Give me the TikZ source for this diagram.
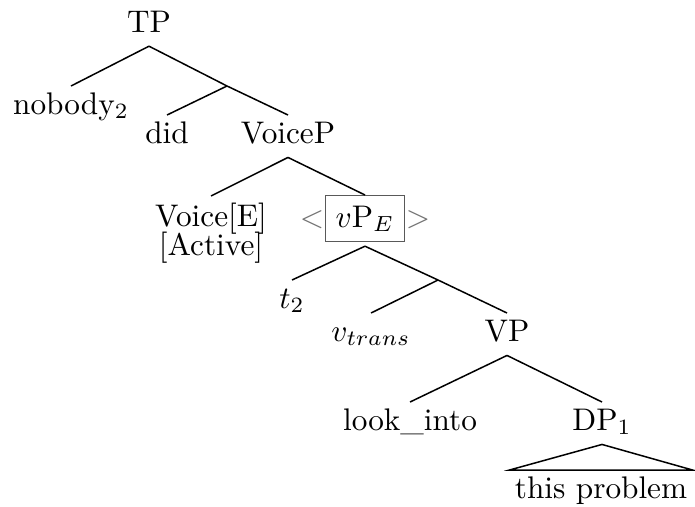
\documentclass[tikz,border=0pt]{standalone}
\begin{document}
\begin{tikzpicture}[x=0.32pt,y=-0.32pt,
  lbl/.style={inner sep=0pt, text height=8.8pt, text depth=4.3pt, anchor=north},
  boxed/.style={draw=black!65, line width=0.45pt, inner sep=3.2pt, anchor=north},
  angle/.style={inner sep=0pt, text=black!55},
  every path/.style={line width=0.48pt}]
\useasboundingbox (0,0) rectangle (695,506);

% nodes
\node[lbl, anchor=base] (TP) at (149,32) {TP};
\node[lbl] (nobody) at (71,86) {nobody$_2$};
\coordinate (m1) at (227,86);
\node[lbl] (did) at (167,115) {did};
\node[lbl] (voicep) at (288,115) {VoiceP};
\node[anchor=north, inner xsep=0pt, inner ysep=1pt, align=center] (voice) at (211,196) {\strut Voice[E]\\[-2.6pt][Active]};
\node[boxed] (vp) at (365,195) {$v$P$_E$};
\node[angle, anchor=base east] (lt) at (vp.base west) {$<$};
\node[angle, anchor=base west] (gt) at (vp.base east) {$>$};
\node[lbl] (t2) at (292,280) {$t_2$};
\coordinate (m2) at (438,280);
\node[lbl] (vtrans) at (371,313) {$v_{trans}$};
\node[lbl] (VP) at (507,313) {VP};
\node[lbl] (look) at (410,402) {look\_into};
\node[lbl] (DP) at (602,402) {DP$_1$};
\node[lbl, inner xsep=1.5pt] (prob) at (601,470) {this problem};

% edges
\draw (TP.south) -- (nobody.north);
\draw (TP.south) -- (m1) -- (voicep.north);
\draw (m1) -- (did.north);
\draw (voicep.south) -- (voice.north);
\draw (voicep.south) -- (vp.north);
\draw ([yshift=-1.2pt]vp.south) -- (t2.north);
\draw ([yshift=-1.2pt]vp.south) -- (m2) -- (VP.north);
\draw (m2) -- (vtrans.north);
\draw (VP.south) -- (look.north);
\draw (VP.south) -- (DP.north);
\draw (DP.south) -- (prob.north west) -- (prob.north east) -- cycle;
\end{tikzpicture}
\end{document}
